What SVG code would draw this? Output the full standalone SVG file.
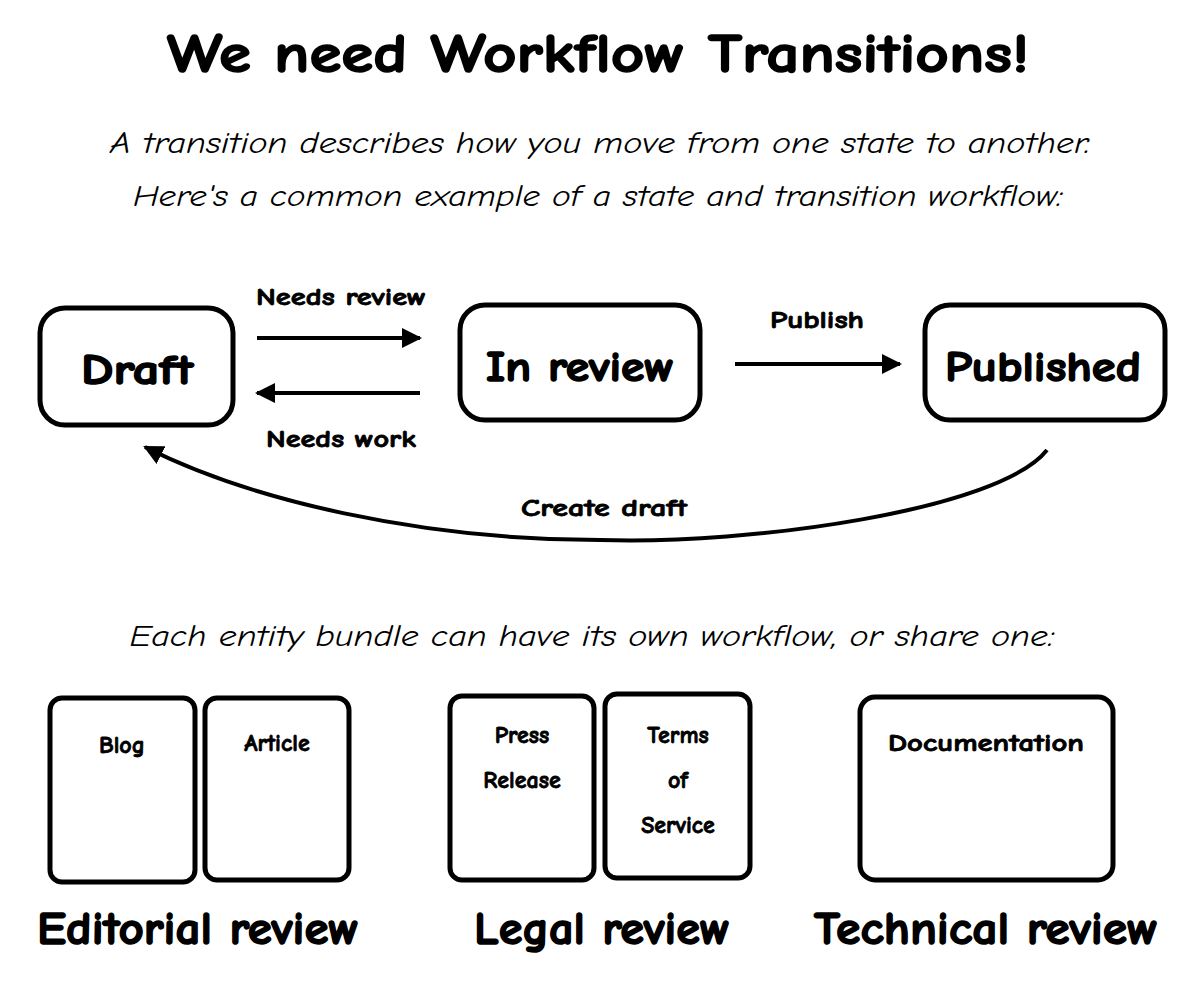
<svg xmlns="http://www.w3.org/2000/svg" width="1199" height="1005" viewBox="0 0 1199 1005">
<defs>
<style>
text{font-family:"Comic Neue","DejaVu Sans","Liberation Sans",sans-serif;fill:#000;text-anchor:middle}
.b{fill:#fff;stroke:#000;stroke-width:5}
.t{font-weight:bold;stroke:#000;stroke-width:1.5}
.l{font-weight:bold;font-size:24px;stroke:#000;stroke-width:0.8}
.s{font-size:30px;font-style:italic}
.c{stroke:#000;stroke-width:4;fill:none}
</style>
<marker id="a" viewBox="0 0 10 10" refX="9" refY="5" markerWidth="5" markerHeight="5" orient="auto"><path d="M0,0L10,5L0,10z"/></marker>
</defs>
<rect width="1199" height="1005" fill="#fff"/>
<text x="598" y="72" class="t" font-size="54" textLength="862" lengthAdjust="spacingAndGlyphs">We need Workflow Transitions!</text>
<text x="600" y="153" class="s" textLength="980" lengthAdjust="spacingAndGlyphs">A transition describes how you move from one state to another.</text>
<text x="598" y="206" class="s" textLength="930" lengthAdjust="spacingAndGlyphs">Here's a common example of a state and transition workflow:</text>
<g id="draft"><rect class="b" x="40" y="308" width="193" height="117" rx="25"/><text x="137" y="384" class="t" font-size="42" textLength="112" lengthAdjust="spacingAndGlyphs">Draft</text></g>
<g id="inreview"><rect class="b" x="460" y="305" width="240" height="115" rx="25"/><text x="580" y="381" class="t" font-size="42" textLength="188" lengthAdjust="spacingAndGlyphs">In review</text></g>
<g id="published"><rect class="b" x="925" y="305" width="240" height="115" rx="25"/><text x="1043" y="381" class="t" font-size="42" textLength="196" lengthAdjust="spacingAndGlyphs">Published</text></g>
<g id="connectors">
<path class="c" d="M257,338H420" marker-end="url(#a)"/>
<path class="c" d="M420,393H257" marker-end="url(#a)"/>
<path class="c" d="M735,364H900" marker-end="url(#a)"/>
<path class="c" d="M1047,450C1000,510 750,545 600,540C420,540 250,500 145,447" marker-end="url(#a)"/>
<text x="341" y="305" class="l" textLength="170" lengthAdjust="spacingAndGlyphs">Needs review</text>
<text x="341" y="447" class="l" textLength="150" lengthAdjust="spacingAndGlyphs">Needs work</text>
<text x="817" y="328" class="l" textLength="94" lengthAdjust="spacingAndGlyphs">Publish</text>
<text x="604" y="516" class="l" textLength="166" lengthAdjust="spacingAndGlyphs">Create draft</text>
</g>
<text x="592" y="646" class="s" textLength="925" lengthAdjust="spacingAndGlyphs">Each entity bundle can have its own workflow, or share one:</text>
<g id="blog"><rect class="b" x="50" y="698" width="145" height="184" rx="12"/><text x="122" y="753" class="l">Blog</text></g>
<g id="article"><rect class="b" x="205" y="698" width="144" height="182" rx="12"/><text x="277" y="751" class="l">Article</text></g>
<g id="press"><rect class="b" x="450" y="696" width="144" height="184" rx="12"/><text x="522" y="743" class="l">Press</text><text x="522" y="788" class="l">Release</text></g>
<g id="terms"><rect class="b" x="605" y="694" width="145" height="184" rx="12"/><text x="678" y="743" class="l">Terms</text><text x="678" y="788" class="l">of</text><text x="678" y="833" class="l">Service</text></g>
<g id="docs"><rect class="b" x="860" y="697" width="253" height="183" rx="15"/><text x="986" y="751" class="l" textLength="196" lengthAdjust="spacingAndGlyphs">Documentation</text></g>
<text x="198" y="944" class="t" font-size="46" textLength="322" lengthAdjust="spacingAndGlyphs">Editorial review</text>
<text x="602" y="944" class="t" font-size="46" textLength="256" lengthAdjust="spacingAndGlyphs">Legal review</text>
<text x="986" y="944" class="t" font-size="46" textLength="344" lengthAdjust="spacingAndGlyphs">Technical review</text>
</svg>
